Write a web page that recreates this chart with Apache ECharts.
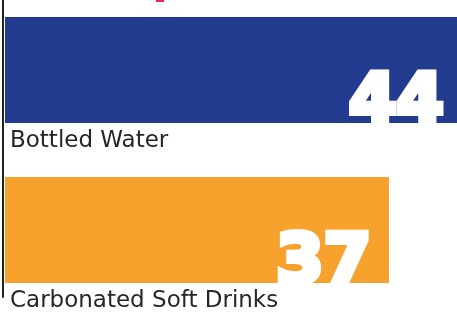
<!DOCTYPE html>
<html>
<head>
<meta charset="utf-8">
<script src="https://cdn.jsdelivr.net/npm/echarts@6/dist/echarts.min.js"></script>
<style>
    html, body { margin: 0; padding: 0; background: #fff; }
    #grafico { width: 457px; height: 318px; }
</style>
</head>
<body>
<div id="grafico"></div>
<script>
var categorias = ["Bottled Water", "Carbonated Soft Drinks"];
var valores = [44, 37];
var colores = ["#233b8e", "#f8a22e"];

function getToArray(data){
    var retornar = [];
    data.forEach(function(item, i){
        retornar.push({value: item, itemStyle: {color: colores[i]}});
    });
    return retornar;
}

function grafico(){
    var dom = document.getElementById("grafico");
    var myChart = echarts.init(dom);
    var option = null;
    option = {
        animation: false,
        grid: [
            // main grid, each band 160px so bars sit at 17-123 and 177-283
            { left: 5, width: 467, top: -10, height: 320, outerBoundsMode: "none" },
            // only here for the dark vertical rule on the left
            { left: 3, width: 100, top: -5, bottom: 21, outerBoundsMode: "none" }
        ],
        graphic: [{
            type: "rect",
            shape: { x: 156, y: 0, width: 8, height: 2 },
            style: { fill: "#e8274b" }
        }],
        xAxis: [
            { type: "value", min: 0, max: 45, show: false, gridIndex: 0 },
            { type: "value", show: false, gridIndex: 1 }
        ],
        yAxis: [
            {
                type: "category",
                data: categorias,
                inverse: true,
                gridIndex: 0,
                axisLine: { show: false },
                axisTick: { show: false },
                axisLabel: { show: false }
            },
            {
                type: "value",
                gridIndex: 1,
                axisLine: { show: true, lineStyle: { color: "#222", width: 2 } },
                axisTick: { show: false },
                axisLabel: { show: false },
                splitLine: { show: false }
            }
        ],
        series: [
            {
                type: "bar",
                data: getToArray(valores),
                barWidth: 106,
                label: {
                    show: true,
                    position: "insideBottomRight",
                    distance: 18,
                    offset: [0, 33],
                    color: "#fff",
                    fontFamily: "DejaVu Sans",
                    fontWeight: "bold",
                    fontSize: 68,
                    textBorderColor: "#fff",
                    textBorderWidth: 6
                }
            },
            {
                type: "bar",
                data: valores,
                barWidth: 106,
                barGap: "-100%",
                itemStyle: { color: "transparent" },
                silent: true,
                label: {
                    show: true,
                    position: ["0%", "100%"],
                    offset: [5, 7],
                    align: "left",
                    verticalAlign: "top",
                    formatter: "{b}",
                    color: "#262626",
                    fontFamily: "DejaVu Sans",
                    fontSize: 23
                }
            }
        ]
    };
    if (option && typeof option === "object") {
        myChart.setOption(option, true);

        window.addEventListener("resize", function(){
            if(myChart != null && myChart != undefined){
                myChart.resize();
            }
        });
    }
}

grafico();
</script>
</body>
</html>
